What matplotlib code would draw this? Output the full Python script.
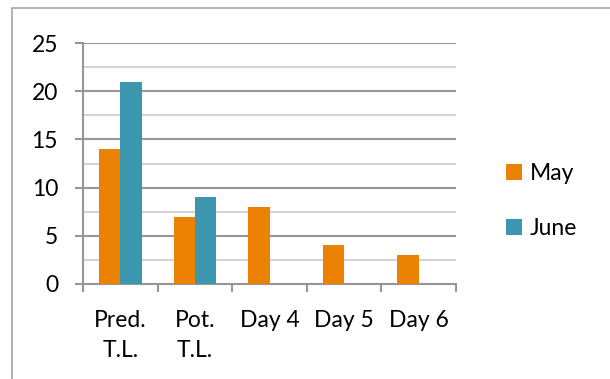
import numpy as np
import matplotlib.pyplot as plt
from matplotlib.patches import Rectangle

categories = ["Pred.\nT.L.", "Pot.\nT.L.", "Day 4", "Day 5", "Day 6"]
may = [14, 7, 8, 4, 3]
june = [21, 9, 0, 0, 0]

orange = "#EB8204"
teal = "#3C96AE"

plt.rcParams["font.family"] = ["Lato", "DejaVu Sans"]

fig = plt.figure(figsize=(6.1, 3.79), dpi=100)
ax = fig.add_axes([83 / 610, 1 - 284 / 379, (456 - 83) / 610, (284 - 43) / 379])

# outer chart frame (cropped on right and bottom)
fig.patches.append(Rectangle((12 / 610, -0.1), 1.2, 1 - 8 / 379 + 0.1,
                             transform=fig.transFigure, fill=False,
                             edgecolor="#A6A6A6", lw=1.2, clip_on=False))

x = np.arange(len(categories))
w = 1 / 3.5
ax.bar(x - w / 2, may, w, color=orange, label="May", zorder=3)
ax.bar(x + w / 2, june, w, color=teal, label="June", zorder=3)

ax.set_xlim(-0.5, len(categories) - 0.5)
ax.set_ylim(0, 25)

for v in np.arange(2.5, 25, 5):
    ax.axhline(v, color="#D4D4D4", lw=1.5, zorder=1)
for v in np.arange(5, 26, 5):
    ax.axhline(v, color="#969696", lw=1.5, zorder=1)

fs = 16.5
ax.set_yticks(np.arange(0, 26, 5))
ax.set_xticks(x)
ax.set_xticklabels(categories, linespacing=1.5, va="top")
ax.set_xticks(np.arange(-0.5, len(categories)), minor=True)
ax.tick_params(axis="x", which="major", length=0, pad=19, labelsize=fs)
ax.tick_params(axis="x", which="minor", length=6, width=1.5, color="#969696")
ax.tick_params(axis="y", length=6, width=1.5, color="#969696", pad=12, labelsize=fs)

for s in ["top", "right"]:
    ax.spines[s].set_visible(False)
for s in ["left", "bottom"]:
    ax.spines[s].set_color("#969696")
    ax.spines[s].set_linewidth(1.5)

ax.legend(loc="center left", bbox_to_anchor=(1.08, 0.345), frameon=False,
          fontsize=fs, handlelength=0.68, handleheight=0.68,
          labelspacing=1.5, handletextpad=0.35)

fig.savefig("out.png", dpi=100)
